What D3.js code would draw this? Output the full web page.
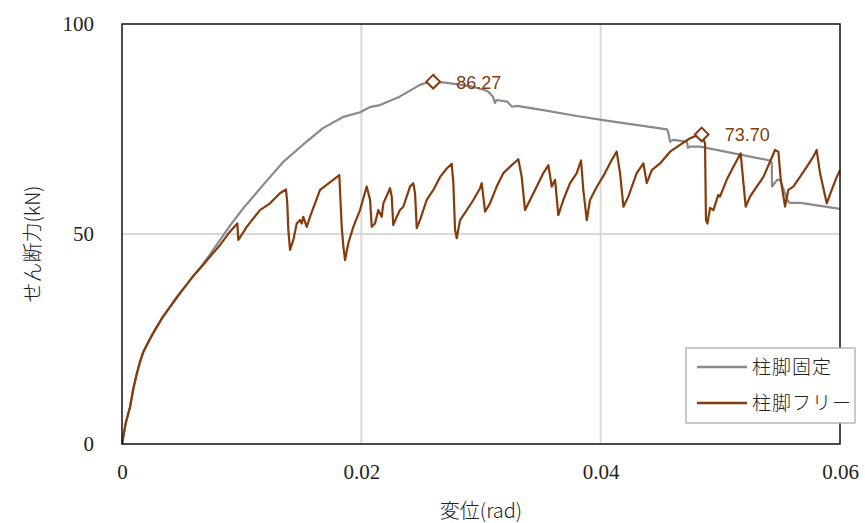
<!DOCTYPE html>
<html><head><meta charset="utf-8">
<script src="https://cdn.jsdelivr.net/npm/d3@7"></script>
<style>body{margin:0;background:#fff}svg{display:block}</style>
</head><body>
<script>
// ---- data ----
const seriesNames = ["柱脚固定", "柱脚フリー"];
const xTicks = [0, 0.02, 0.04, 0.06];
const yTicks = [0, 50, 100];
// 柱脚固定 (gray)
const fixedX = [0,0.0003,0.00067,0.00095,0.00125,0.0015,0.00175,0.0022,0.0026,0.0034,0.004,0.0046,0.0053,0.0059,0.0067,0.0074,0.0082,0.0091,0.0101,0.0118,0.01345,0.0151,0.0168,0.0185,0.0199,0.0207,0.02156,0.0232,0.0249,0.0253,0.026,
  0.02716,0.0291,0.0303,0.0306,0.0310,0.03117,0.0313,0.0322,0.0326,0.0330,0.0352,0.0380,0.0402,0.04554,0.04563,0.0458,0.04604,0.0472,0.0473,0.04747,0.0483,0.05415,0.0543,0.05432,0.05475,0.0550,0.0556,0.0558,0.0567,0.06];
const fixedY = [0,4.8,8.8,13.2,16.9,19.5,21.7,24.3,26.4,30.2,32.6,35.0,37.6,39.8,42.6,45.3,48.6,52.3,56.0,61.7,67.1,71.2,75.2,77.9,79.0,80.2,80.7,82.7,85.5,85.9,86.27,
  86.0,85.2,84.3,83.9,82.7,81.2,81.9,81.5,80.3,80.5,79.5,78.1,77.1,74.9,74.4,72.0,72.4,72.0,70.5,70.8,70.8,67.5,66.9,61.3,62.9,62.9,58.1,57.4,57.4,56.0];
// 柱脚フリー (brown)
const freeX = [0,0.0003,0.00067,0.00095,0.00125,0.0015,0.00175,0.0022,0.0026,0.0034,0.004,0.0046,0.0053,0.0059,0.0067,0.00735,0.0082,0.0090,0.00964,0.00972,0.0100,0.01042,0.01153,0.01237,0.0132,0.0137,0.01381,0.0139,0.01404,0.01432,0.0146,0.01488,0.01502,0.01515,0.01544,0.01571,0.01655,0.0171,0.01816,0.01836,0.0185,0.01864,0.01891,0.01933,0.01989,0.02045,0.02073,0.02087,0.02114,0.02142,0.0217,0.02184,0.0224,0.02254,0.02267,0.02296,0.02323,0.02351,0.02407,0.02434,0.02449,0.02463,0.0249,0.02546,0.02602,0.02658,0.02714,0.02755,0.02769,0.02783,0.02797,0.02825,0.02881,0.02936,0.02992,0.03006,0.03034,0.03075,0.03131,0.03187,0.03257,0.03312,0.0334,0.03368,0.0341,0.03466,0.03521,0.03563,0.03591,0.03619,0.03646,0.03688,0.03744,0.038,0.03836,0.03855,0.03884,0.03911,0.03967,0.04036,0.04092,0.04134,0.04162,0.0419,0.04231,0.04301,0.04357,0.04385,0.04427,0.04496,0.0458,0.04663,0.04747,0.04816,0.04844,0.04872,0.0488,0.04892,0.04914,0.04942,0.04983,0.04997,0.05053,0.05109,0.0517,0.05193,0.05212,0.05248,0.05304,0.0536,0.05415,0.05457,0.05485,0.05505,0.05541,0.05568,0.0561,0.05666,0.05722,0.05777,0.05805,0.05833,0.05889,0.05931,0.05973,0.06];
const freeY = [0,4.8,8.8,13.2,16.9,19.5,21.7,24.3,26.4,30.2,32.6,35.0,37.6,39.8,42.4,44.6,47.4,50.5,52.5,48.6,49.8,51.7,55.7,57.3,59.7,60.6,57.4,51.0,46.2,48.6,52.5,53.3,52.5,54.1,51.7,54.1,60.5,61.7,64.0,51.7,47.0,43.8,47.8,51.7,55.7,61.3,58.1,51.7,52.5,55.7,54.1,57.3,60.9,58.9,52.1,54.1,55.7,56.5,61.3,62.1,59.7,51.4,53.3,58.1,60.5,63.6,65.6,66.7,62.1,51.0,49.0,53.3,55.7,58.1,60.9,62.1,55.3,57.3,61.3,64.5,66.4,67.8,63.6,55.7,58.1,61.3,64.5,66.4,61.3,62.9,54.5,58.1,62.1,64.5,67.5,60.5,53.3,58.1,61.2,64.5,67.6,69.6,64.5,56.5,58.9,64.5,66.8,62.1,65.2,66.8,69.6,71.2,72.8,73.6,73.7,71.6,53.3,52.5,56.2,55.7,59.3,58.9,62.9,66.0,69.2,62.1,56.5,58.9,61.3,63.6,67.2,70.0,69.6,62.9,56.5,60.5,61.3,63.6,66.0,68.4,70.0,64.5,57.3,60.5,63.6,65.2];
const peakX = [0.026, 0.04844];
const peakY = [86.27, 73.70];
const peakLabels = ["86.27", "73.70"];

// ---- layout ----
const W = 865, H = 523;
const L = 122, R = 840, T = 24, B = 444;
const gray = "#8a8a8a", brown = "#843c0c";
const svg = d3.select("body").append("svg").attr("width", W).attr("height", H);
const x = d3.scaleLinear().domain([0, 0.06]).range([L, R]);
const y = d3.scaleLinear().domain([0, 100]).range([B, T]);

// gridlines
svg.append("g").selectAll("line").data(xTicks.filter(d => d > 0 && d < 0.06)).join("line")
  .attr("x1", d => x(d)).attr("x2", d => x(d)).attr("y1", T).attr("y2", B)
  .attr("stroke", "#d9d9d9").attr("stroke-width", 2);
svg.append("g").selectAll("line").data(yTicks.filter(d => d > 0 && d < 100)).join("line")
  .attr("y1", d => y(d)).attr("y2", d => y(d)).attr("x1", L).attr("x2", R)
  .attr("stroke", "#d9d9d9").attr("stroke-width", 2);

// axes (labels only)
const xAxis = d3.axisBottom(x).tickValues(xTicks).tickSize(0).tickPadding(20)
  .tickFormat(d => d === 0 ? "0" : d3.format(".2f")(d));
const gx = svg.append("g").attr("transform", `translate(0,${B})`).call(xAxis);
const yAxis = d3.axisLeft(y).tickValues(yTicks).tickSize(0).tickPadding(28).tickFormat(d3.format("d"));
const gy = svg.append("g").attr("transform", `translate(${L},0)`).call(yAxis);
[gx, gy].forEach(g => {
  g.select(".domain").remove();
  g.selectAll("text").attr("font-family", "'Liberation Serif', 'DejaVu Serif', serif")
    .attr("font-size", 21).attr("fill", "#222");
});

// lines
const toPts = (xs, ys) => xs.map((v, i) => [v, ys[i]]);
const line = d3.line().x(d => x(d[0])).y(d => y(d[1]));
svg.append("path").datum(toPts(fixedX, fixedY)).attr("d", line)
  .attr("fill", "none").attr("stroke", gray).attr("stroke-width", 2.2).attr("stroke-linejoin", "round");
svg.append("path").datum(toPts(freeX, freeY)).attr("d", line)
  .attr("fill", "none").attr("stroke", brown).attr("stroke-width", 2.2).attr("stroke-linejoin", "round");

// peak markers
const sym = d3.symbol().type(d3.symbolDiamond2).size(120);
peakX.forEach((px, i) => {
  svg.append("path").attr("d", sym).attr("transform", `translate(${x(px)},${y(peakY[i])})`)
    .attr("fill", "#fff").attr("stroke", brown).attr("stroke-width", 2);
  svg.append("text").attr("x", x(px) + 23).attr("y", y(peakY[i]) + 7)
    .attr("font-family", "'Liberation Sans', Arial, sans-serif").attr("font-size", 18)
    .attr("fill", brown).text(peakLabels[i]);
});

// plot border
svg.append("rect").attr("x", L).attr("y", T).attr("width", R - L).attr("height", B - T)
  .attr("fill", "none").attr("stroke", "#111").attr("stroke-width", 1.5);

// axis titles
svg.append("text").attr("x", (L + R) / 2).attr("y", 518).attr("text-anchor", "middle")
  .attr("font-family", "'Noto Sans CJK JP', sans-serif").attr("font-weight", 300).attr("font-size", 20)
  .attr("fill", "#222").text("変位(rad)");
svg.append("text").attr("transform", `translate(40,${(T + B) / 2 + 10}) rotate(-90)`).attr("text-anchor", "middle")
  .attr("font-family", "'Noto Sans CJK JP', sans-serif").attr("font-weight", 300).attr("font-size", 20)
  .attr("fill", "#222").text("せん断力(kN)");

// legend
const lg = svg.append("g");
lg.append("rect").attr("x", 686).attr("y", 348).attr("width", 169).attr("height", 75)
  .attr("fill", "#fff").attr("stroke", "#a6a6a6").attr("stroke-width", 1.2);
[gray, brown].forEach((c, i) => {
  const yy = 367 + i * 36;
  lg.append("line").attr("x1", 697).attr("x2", 747).attr("y1", yy).attr("y2", yy)
    .attr("stroke", c).attr("stroke-width", 2.5);
  lg.append("text").attr("x", 752).attr("y", yy + 7).attr("font-family", "'Noto Sans CJK JP', sans-serif")
    .attr("font-weight", 300).attr("font-size", 19).attr("letter-spacing", 1).attr("fill", "#222").text(seriesNames[i]);
});
</script>
</body></html>
